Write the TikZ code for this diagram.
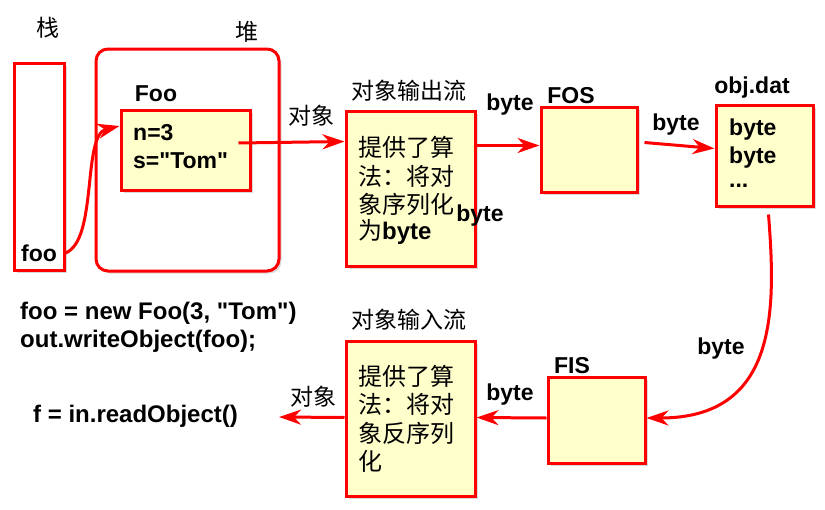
\documentclass[tikz,border=0pt]{standalone}
\usepackage{fontspec}
\setmainfont{Liberation Sans}[Ligatures=TeXOff]
\newfontfamily\cjk{Noto Sans CJK SC}
\usetikzlibrary{arrows.meta,shadows,calc}
\definecolor{boxred}{HTML}{FF0000}
\definecolor{boxfill}{HTML}{FFFFCC}
\tikzset{
  box/.style={draw=boxred, line width=3pt, fill=boxfill, inner sep=0pt,
     drop shadow={shadow xshift=2.5pt, shadow yshift=-2.5pt, opacity=0.3}},
  wbox/.style={box, fill=white},
  lbl/.style={inner sep=0pt, font=\fontsize{23}{25}\selectfont\bfseries},
  code/.style={inner sep=0pt, anchor=west, font=\fontsize{24}{26}\selectfont\bfseries},
  cjkl/.style={inner sep=0pt, font=\fontsize{23}{25}\selectfont\cjk},
  body/.style={inner sep=0pt, anchor=west, font=\fontsize{24}{26}\selectfont\cjk},
  conn/.style={draw=boxred, line width=3pt, -{Stealth[length=22pt,width=15pt,inset=7pt]}},
}
\begin{document}
\begin{tikzpicture}[x=1pt,y=-1pt]
\useasboundingbox (0,0) rectangle (825,509);
% stack and heap
\node[wbox, minimum width=50pt, minimum height=207pt] (stack) at (39,166.5) {};
\node[wbox, rounded corners=12pt, minimum width=183pt, minimum height=222pt] (heap) at (187.5,160) {};
\node[cjkl] (stacklbl) at (48,28) {栈};
\node[cjkl] (heaplbl) at (247,32) {堆};
\node[lbl] (foolbl) at (156,94) {Foo};
\node[box, minimum width=129pt, minimum height=80pt] (inner) at (185.5,150) {};
\node[lbl, anchor=west] (n3) at (133,133) {n=3};
\node[lbl, anchor=west] (sTom) at (133,161) {s="Tom"};
\node[lbl, anchor=west] (foo) at (21,253) {foo};
% output stream
\node[box, minimum width=129pt, minimum height=155pt] (outs) at (410.5,188.5) {};
\node[cjkl] (outtitle) at (409,91) {对象输出流};
\node[body] (o1) at (358,147) {提供了算};
\node[body] (o2) at (358,176) {法：将对};
\node[body] (o3) at (358,204) {象序列化};
\node[body] (o4) at (358,232) {为\bfseries\fontspec{Liberation Sans}byte};
\node[lbl] (obyte) at (480,216) {byte};
% FOS
\node[box, minimum width=96pt, minimum height=85pt] (fos) at (589,149.5) {};
\node[lbl] (foslbl) at (571,96) {FOS};
% obj.dat
\node[box, minimum width=97pt, minimum height=101pt] (objdat) at (764.5,155.5) {};
\node[lbl] (objlbl) at (752,88) {obj.dat};
\node[lbl, anchor=west] (b1) at (729,130) {byte};
\node[lbl, anchor=west] (b2) at (729,158) {byte};
\node[lbl, anchor=west] (b3) at (729,186) {...};
% FIS
\node[box, minimum width=97pt, minimum height=86pt] (fis) at (596.5,420) {};
\node[lbl] (fislbl) at (572,366) {FIS};
% input stream
\node[box, minimum width=129pt, minimum height=155pt] (ins) at (410.5,418.5) {};
\node[cjkl] (intitle) at (409,320) {对象输入流};
\node[body] (i1) at (358,376) {提供了算};
\node[body] (i2) at (358,404) {法：将对};
\node[body] (i3) at (358,433) {象反序列};
\node[body] (i4) at (358,461) {化};
% code
\node[code] (code1) at (20,313) {foo = new Foo(3, "Tom")};
\node[code] (code2) at (20,341) {out.writeObject(foo);};
\node[code] (code3) at (33,416) {f = in.readObject()};
% labels on connectors
\node[cjkl] (l1) at (311,116) {对象};
\node[lbl] (l2) at (510,105) {byte};
\node[lbl] (l3) at (676,125) {byte};
\node[lbl] (l4) at (721,349) {byte};
\node[lbl] (l5) at (510,395) {byte};
\node[cjkl] (l6) at (313,397) {对象};
\coordinate (endleft) at (279,417);
% connectors
\draw[conn] ([yshift=-86.5pt]stack.east) .. controls (98,240) and (82,135) .. ([yshift=24pt]inner.west);
\draw[conn] ([xshift=-13pt,yshift=7pt]inner.east) -- ([yshift=47pt]outs.west);
\draw[conn] ([yshift=43pt]outs.east) -- ([yshift=4pt]fos.west);
\draw[conn] ([xshift=6pt,yshift=7pt]fos.east) -- ([yshift=7pt]objdat.west);
\draw[conn] ([xshift=4pt,yshift=-7pt]objdat.south) .. controls (776,310) and (778,418) .. ([yshift=2pt]fis.east);
\draw[conn] ([yshift=2pt]fis.west) -- ([yshift=1pt]ins.east);
\draw[conn] ([yshift=1pt]ins.west) -- (endleft);
\end{tikzpicture}
\end{document}
